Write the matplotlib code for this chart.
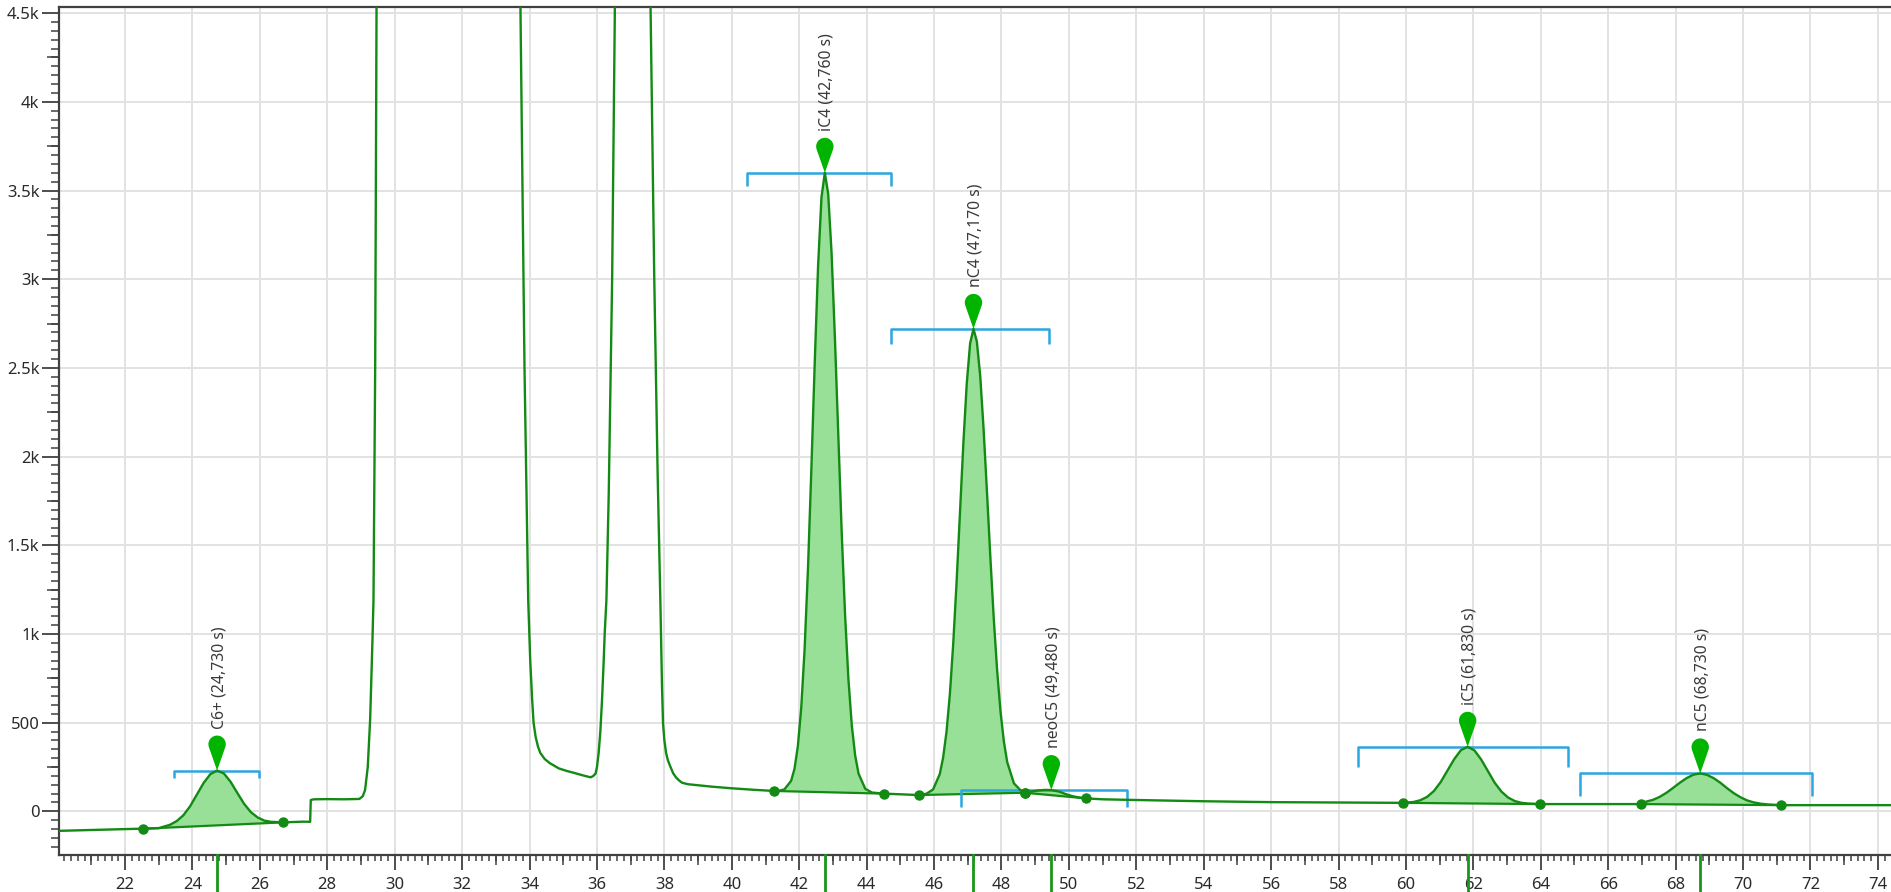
import numpy as np
import matplotlib
matplotlib.use("Agg")
import matplotlib.pyplot as plt
from matplotlib.path import Path
from matplotlib.patches import PathPatch
from matplotlib.transforms import ScaledTranslation, blended_transform_factory
from matplotlib.ticker import MultipleLocator, FuncFormatter, FixedLocator

plt.rcParams['font.family'] = ['Noto Sans', 'DejaVu Sans']

# ---- chromatogram trace (time, signal) ----
time_s = [20.0, 21.0, 22.0, 22.52, 23.0, 23.13, 23.33, 23.53, 23.73, 23.93, 24.13, 24.33, 24.53,
          24.73, 24.93, 25.13, 25.33, 25.53, 25.73, 25.93, 26.13, 26.33, 26.70, 27.0, 27.3, 27.49,
          27.51, 27.6, 28.0, 28.5, 28.95, 29.05, 29.12, 29.2, 29.27, 29.33, 29.37, 29.42, 29.46,
          29.55, 30.5, 32.5, 33.6, 33.73, 33.85, 33.96, 34.02, 34.08, 34.12, 34.18, 34.25, 34.32,
          34.45, 34.6, 34.87, 35.1, 35.3, 35.6, 35.81, 35.87, 35.92, 35.96, 36.0, 36.05, 36.1,
          36.15, 36.2, 36.23, 36.28, 36.35, 36.45, 36.53, 36.7, 37.05, 37.4, 37.59, 37.7, 37.8,
          37.88, 37.93, 37.96, 38.0, 38.05, 38.1, 38.18, 38.26, 38.35, 38.45, 38.53, 38.7, 39.0,
          39.42, 40.0, 40.7, 41.26,
          41.36, 41.56, 41.76, 41.86, 41.96, 42.06, 42.16, 42.26, 42.36, 42.46, 42.56, 42.66, 42.76,
          42.86, 42.96, 43.06, 43.16, 43.26, 43.36, 43.46, 43.56, 43.66, 43.76, 43.96, 44.16, 44.51,
          45.0, 45.55, 45.77, 45.97, 46.17, 46.27, 46.37, 46.47, 46.57, 46.67, 46.77, 46.87, 46.97,
          47.07, 47.17, 47.27, 47.37, 47.47, 47.57, 47.67, 47.77, 47.87, 47.97, 48.07, 48.17, 48.37,
          48.57, 48.69, 48.9, 49.1, 49.3, 49.48, 49.7, 49.9, 50.1, 50.3, 50.52, 51.0, 52.0, 54.0,
          56.0, 58.0, 59.91, 60.23, 60.43, 60.63, 60.83, 61.03, 61.23, 61.43, 61.63, 61.83, 62.03,
          62.23, 62.43, 62.63, 62.83, 63.03, 63.23, 63.43, 63.63, 63.98, 65.0, 66.96, 67.13, 67.33,
          67.53, 67.73, 67.93, 68.13, 68.33, 68.53, 68.73, 68.93, 69.13, 69.33, 69.53, 69.73, 69.93,
          70.13, 70.33, 70.53, 70.73, 71.14, 72.5, 74.39]
signal = [-110, -105, -100, -98, -95, -87, -76, -55, -22, 29, 94, 160, 210,
          230, 214, 167, 104, 43, -4, -34, -52, -59, -62, -60, -58, -59,
          64, 68, 69, 68, 70, 85, 120, 250, 515, 900, 1191, 2500, 4530,
          8000, 15000, 15000, 7000, 4530, 2500, 1191, 850, 620, 498, 420, 365, 329,
          295, 272, 242, 228, 218, 202, 192, 197, 205, 214, 250, 330, 450,
          627, 850, 1005, 1191, 1800, 3000, 4530, 7000, 9000, 7000, 4530, 3000, 1900,
          1191, 700, 496, 400, 330, 290, 251, 215, 190, 172, 161, 153, 147,
          139, 130, 121, 115,
          114, 124, 172, 240, 368, 584, 915, 1368, 1927, 2528, 3075, 3461, 3600,
          3481, 3148, 2664, 2114, 1575, 1110, 745, 484, 315, 213, 127, 106, 100,
          96, 92, 99, 123, 210, 304, 449, 662, 948, 1297, 1688, 2076, 2410,
          2638, 2720, 2649, 2454, 2155, 1801, 1435, 1092, 799, 566, 396, 278, 158,
          118, 105, 112, 118, 121, 120, 112, 98, 86, 78, 73, 68, 64, 57,
          52, 50, 48, 53, 63, 82, 115, 165, 229, 294, 345, 364, 344,
          293, 227, 162, 112, 78, 58, 48, 44, 41, 41, 41, 55, 65,
          82, 105, 133, 162, 188, 207, 214, 206, 187, 161, 130, 102, 79,
          61, 50, 43, 39, 35, 35, 35]

# ---- identified peaks ----
peak_names = ['C6+', 'iC4', 'nC4', 'neoC5', 'iC5', 'nC5']
peak_rt = [24.73, 42.76, 47.17, 49.48, 61.83, 68.73]
peak_top = [230, 3600, 2720, 120, 364, 214]
peak_start = [22.52, 41.26, 45.55, 48.69, 59.91, 66.96]
peak_end = [26.70, 44.51, 48.69, 50.52, 63.98, 71.14]
window_left = [23.45, 40.45, 44.71, 46.80, 58.58, 65.16]
window_right = [25.97, 44.72, 49.42, 51.73, 64.80, 72.05]
window_drop_px = [7, 13, 15, 17, 20, 23]

LINE = '#138a13'
FILL = '#98e098'
PIN = '#00b400'
BRACKET = '#2aa6e0'

t = np.array(time_s)
s = np.array(signal, dtype=float)

fig = plt.figure(figsize=(18.91, 8.92), dpi=100)
ax = fig.add_axes([59 / 1891, 1 - 855 / 892, 1 - 59 / 1891, (855 - 7.3) / 892])
ax.set_xlim(20.04, 74.39)
ax.set_ylim(-246, 4533)

# grid
ax.set_axisbelow(True)
ax.xaxis.set_major_locator(MultipleLocator(2))
ax.xaxis.set_minor_locator(MultipleLocator(0.2))
ax.yaxis.set_major_locator(MultipleLocator(500))
ax.yaxis.set_minor_locator(MultipleLocator(50))
ax.grid(True, which='major', color='#e2e2e2', lw=1.4)


def kfmt(v, pos):
    if abs(v) >= 1000:
        txt = f"{v / 1000:.1f}".rstrip('0').rstrip('.')
        return txt + 'k'
    return f"{int(v)}"


ax.yaxis.set_major_formatter(FuncFormatter(kfmt))

# peak areas
for st, en in zip(peak_start, peak_end):
    m = (t >= st - 1e-9) & (t <= en + 1e-9)
    ax.fill(t[m], s[m], color=FILL, lw=0, zorder=2)
    ys = [s[np.argmin(abs(t - st))], s[np.argmin(abs(t - en))]]
    ax.plot([st, en], ys, color=LINE, lw=1.6, zorder=3)
    ax.plot([st, en], ys, 'o', color=LINE, ms=6.5, zorder=5)

# trace
ax.plot(t, s, color=LINE, lw=1.7, zorder=4, solid_joinstyle='round')

# integration windows
for L, R, h, d in zip(window_left, window_right, peak_top, window_drop_px):
    dy = d / 0.17737
    ax.plot([L, L, R, R], [h - dy, h, h, h - dy], color=BRACKET, lw=1.8, zorder=3,
            solid_capstyle='butt')

# pin marker (teardrop) in pixel units
r, hc = 8.7, 26.3
alpha = np.degrees(np.arcsin(r / hc))
arc = Path.arc(-alpha, 180 + alpha)
verts = [(0, 0)] + [(x * r, y * r + hc) for x, y in arc.vertices] + [(0, 0)]
codes = [Path.MOVETO, Path.LINETO] + list(arc.codes[1:]) + [Path.CLOSEPOLY]
pin_path = Path(np.array(verts) / 100.0, codes)

for name, rt, h in zip(peak_names, peak_rt, peak_top):
    tr = fig.dpi_scale_trans + ScaledTranslation(rt, h, ax.transData)
    ax.add_patch(PathPatch(pin_path, transform=tr, facecolor=PIN, edgecolor='none',
                           zorder=6, clip_on=False))
    label = f"{name} ({rt:.3f} s)".replace('.', ',')
    ax.annotate(label, xy=(rt, h), xytext=(1.5, 42 * 0.72), textcoords='offset points',
                rotation=90, ha='center', va='bottom', fontsize=11.3, color='#3a3a3a')

# retention markers below the axis
btr = blended_transform_factory(ax.transData, ax.transAxes)
for rt in peak_rt:
    ax.plot([rt, rt], [0, -0.06], transform=btr, color='#1a961a', lw=2, clip_on=False,
            zorder=7)

# spines & ticks
for side in ['left', 'bottom', 'top']:
    ax.spines[side].set_color('#404040')
    ax.spines[side].set_linewidth(1.6)
ax.spines['right'].set_visible(False)
ax.tick_params(axis='x', which='major', length=10.5, width=1.3, color='#404040',
               labelsize=12, labelcolor='#2a2a2a', pad=5)
ax.tick_params(axis='x', which='minor', length=4, width=1.1, color='#404040')
ax.tick_params(axis='y', which='major', length=12, width=1.3, color='#404040',
               labelsize=12, labelcolor='#2a2a2a', pad=2)
ax.tick_params(axis='y', which='minor', length=5.5, width=1.1, color='#404040')

# medium ticks
secx = ax.secondary_xaxis('bottom')
secx.xaxis.set_major_locator(FixedLocator(np.arange(21, 75, 2)))
secx.tick_params(length=7, width=1.1, color='#404040', labelbottom=False)
secx.spines['bottom'].set_visible(False)
secy = ax.secondary_yaxis('left')
secy.yaxis.set_major_locator(FixedLocator(np.arange(-250, 4600, 500)))
secy.tick_params(length=8.5, width=1.1, color='#404040', labelleft=False)
secy.spines['left'].set_visible(False)

fig.savefig('out.png', dpi=100)
